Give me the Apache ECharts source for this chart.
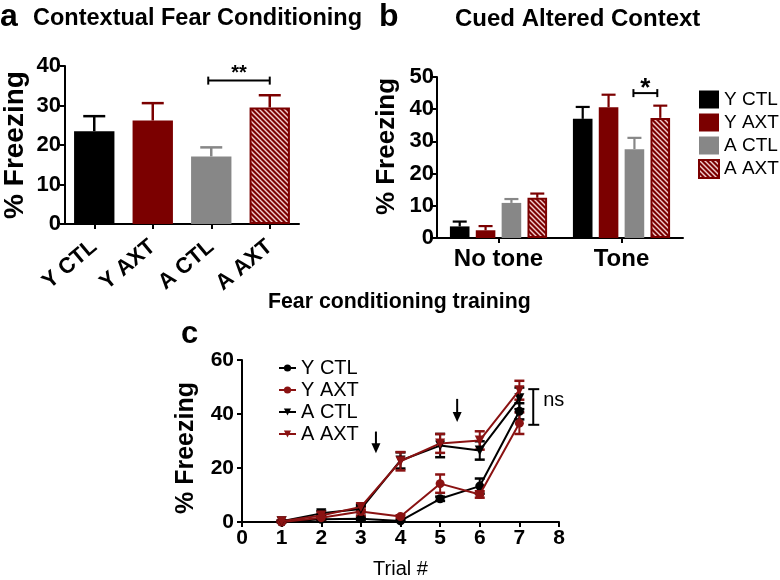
<!DOCTYPE html>
<html><head><meta charset="utf-8">
<script src="https://cdn.jsdelivr.net/npm/echarts@6/dist/echarts.min.js"></script>
<style>html,body{margin:0;padding:0;background:#fff}#c{width:780px;height:580px}</style>
</head><body><div id="c"></div>
<script>
// ---------- data ----------
const groupNames = ['Y CTL', 'Y AXT', 'A CTL', 'A AXT'];
// panel a: contextual fear conditioning
const meanA = [23.5, 26.2, 17.1, 29.5];
const semA = [3.8, 4.4, 2.3, 3.1];
const sigA = [2, 3, 36.3, '**'];              // from group, to group, level, label
// panel b: cued altered context
const catsB = ['No tone', 'Tone'];
const meanB_YCTL = [3.6, 37.0];
const meanB_YAXT = [2.4, 40.6];
const meanB_ACTL = [10.9, 27.6];
const meanB_AAXT = [12.5, 37.3];
const semB_YCTL = [1.5, 3.7];
const semB_YAXT = [1.3, 3.9];
const semB_ACTL = [1.2, 3.5];
const semB_AAXT = [1.3, 3.8];
const sigB = [1, 2, 3, 45, '*'];              // category, from group, to group, level, label
// panel c: fear conditioning training
const trials = [1, 2, 3, 4, 5, 6, 7];
const c_YCTL = [0.0, 1.0, 1.2, 0.4, 8.6, 13.3, 41.0];
const c_YAXT = [0.0, 1.6, 3.9, 2.0, 14.2, 10.2, 36.6];
const c_ACTL = [0.3, 3.2, 4.8, 22.8, 28.3, 26.5, 45.8];
const c_AAXT = [0.3, 2.4, 5.6, 22.5, 29.1, 30.2, 48.8];
const e_YCTL = [0.3, 0.5, 0.5, 0.3, 0.8, 2.8, 3.0];
const e_YAXT = [0.3, 0.8, 1.5, 0.5, 3.4, 1.2, 4.0];
const e_ACTL = [0.3, 1.0, 1.2, 3.0, 4.3, 3.4, 4.0];
const e_AAXT = [0.3, 0.8, 1.2, 3.4, 3.5, 3.4, 3.5];
const arrowsC = [[3.38, 33.5, 25.5], [5.43, 45.6, 37.0]]; // x, top, tip
const nsC = [7.35, 36.0, 49.2, 'ns'];

// ---------- styles ----------
const FONT = 'Liberation Sans, Arial, Helvetica, sans-serif';
const BLACK = '#000000', RED = '#7b0000', GRAY = '#878787', LRED = '#8a1212';
function makeHatch() {
  const s = 5, cv = document.createElement('canvas');
  cv.width = s; cv.height = s;
  const g = cv.getContext('2d');
  g.fillStyle = RED; g.fillRect(0, 0, s, s);
  g.strokeStyle = '#f2cccc'; g.lineWidth = 1.4;
  for (let k = -1; k <= 1; k++) {
    g.beginPath(); g.moveTo(k * s - 1, -1); g.lineTo(k * s + s + 1, s + 1); g.stroke();
  }
  return cv;
}
const HATCH = { image: makeHatch(), repeat: 'repeat' };
const fills = [BLACK, RED, GRAY, HATCH];
const strokes = [BLACK, RED, GRAY, RED];

const axisLine = { show: true, lineStyle: { color: '#000', width: 2 } };
const axisTick = { show: true, length: 5, lineStyle: { color: '#000', width: 2 } };
const boldLbl = (size, margin) => ({ color: '#000', fontFamily: FONT, fontWeight: 'bold', fontSize: size, margin: margin });

// bar offset within group for panel b
const B_CAT_GAP = 0.21, B_GAP = 0.32, NB = 4;
function offB(bw, g) {
  const avail = bw * (1 - B_CAT_GAP);
  const w = avail / (NB + (NB - 1) * B_GAP);
  return { off: -avail / 2 + w / 2 + g * w * (1 + B_GAP), w: w };
}

function ln(x1, y1, x2, y2, col, lw) {
  return { type: 'line', shape: { x1: x1, y1: y1, x2: x2, y2: y2 }, style: { stroke: col, lineWidth: lw } };
}

const chart = echarts.init(document.getElementById('c'), null, { renderer: 'canvas' });

const meansB = [meanB_YCTL, meanB_YAXT, meanB_ACTL, meanB_AAXT];
const semsB = [semB_YCTL, semB_YAXT, semB_ACTL, semB_AAXT];
const cMeans = [c_YCTL, c_YAXT, c_ACTL, c_AAXT];
const cErrs = [e_YCTL, e_YAXT, e_ACTL, e_AAXT];
const cCols = [BLACK, LRED, BLACK, LRED];
const cSyms = ['circle', 'circle', 'triangle', 'triangle'];

const errDataB = [];
meansB.forEach((arr, g) => arr.forEach((m, c) => errDataB.push([c, g, m, semsB[g][c]])));
const errDataC = [];
cMeans.forEach((arr, s) => arr.forEach((m, i) => errDataC.push([trials[i], m, cErrs[s][i], s])));

const series = [];
// panel a bars
series.push({
  type: 'bar', name: 'panelA', xAxisIndex: 0, yAxisIndex: 0,
  barCategoryGap: '31%',
  data: meanA.map((v, i) => ({ value: v, itemStyle: { color: fills[i], borderColor: i === 3 ? RED : 'transparent', borderWidth: i === 3 ? 2 : 0 } })),
  z: 3
});
series.push({
  type: 'custom', xAxisIndex: 0, yAxisIndex: 0, z: 2,
  encode: { x: 0, y: 1 },
  data: meanA.map((m, i) => [i, m, semA[i]]),
  renderItem(params, api) {
    const i = api.value(0), m = api.value(1), e = api.value(2);
    const p0 = api.coord([i, m]), p1 = api.coord([i, m + e]);
    const col = strokes[params.dataIndex];
    return { type: 'group', children: [
      ln(p0[0], p0[1], p1[0], p1[1], col, 2.5),
      ln(p1[0] - 11, p1[1], p1[0] + 11, p1[1], col, 2.5)
    ] };
  }
});
series.push({
  type: 'custom', xAxisIndex: 0, yAxisIndex: 0, z: 4,
  encode: { x: 0, y: 2 },
  data: [sigA],
  renderItem(params, api) {
    const a = api.coord([api.value(0), api.value(2)]);
    const b = api.coord([api.value(1), api.value(2)]);
    const x1 = a[0] - 3, x2 = b[0], y = a[1];
    return { type: 'group', children: [
      ln(x1, y, x2, y, '#000', 2),
      ln(x1, y - 4, x1, y + 4, '#000', 2),
      ln(x2, y - 4, x2, y + 4, '#000', 2),
      { type: 'text', style: { text: sigA[3], x: (x1 + x2) / 2, y: y - 7, align: 'center', verticalAlign: 'middle', font: 'bold 20px ' + FONT, fill: '#000' } }
    ] };
  }
});
// panel b bars
groupNames.forEach((nm, g) => {
  series.push({
    type: 'bar', name: nm, xAxisIndex: 1, yAxisIndex: 1,
    barGap: '32%', barCategoryGap: '21%', z: 3,
    itemStyle: { color: fills[g], borderColor: g === 3 ? RED : 'transparent', borderWidth: g === 3 ? 2 : 0 },
    data: meansB[g]
  });
});
series.push({
  type: 'custom', xAxisIndex: 1, yAxisIndex: 1, z: 2,
  encode: { x: 0, y: 2 },
  data: errDataB,
  renderItem(params, api) {
    const c = api.value(0), g = api.value(1), m = api.value(2), e = api.value(3);
    const bw = api.size([1, 0])[0];
    const o = offB(bw, g).off;
    const p0 = api.coord([c, m]), p1 = api.coord([c, m + e]);
    const x = p0[0] + o;
    const col = strokes[g];
    return { type: 'group', children: [
      ln(x, p0[1], x, p1[1], col, 2.2),
      ln(x - 7, p1[1], x + 7, p1[1], col, 2.2)
    ] };
  }
});
series.push({
  type: 'custom', xAxisIndex: 1, yAxisIndex: 1, z: 4,
  encode: { x: 0, y: 3 },
  data: [sigB],
  renderItem(params, api) {
    const c = api.value(0);
    const bw = api.size([1, 0])[0];
    const p = api.coord([c, api.value(3)]);
    const x1 = p[0] + offB(bw, api.value(1)).off - 1;
    const x2 = p[0] + offB(bw, api.value(2)).off - 3;
    const y = p[1];
    return { type: 'group', children: [
      ln(x1, y, x2, y, '#000', 2),
      ln(x1, y - 4, x1, y + 4, '#000', 2),
      ln(x2, y - 4, x2, y + 4, '#000', 2),
      { type: 'text', style: { text: sigB[4], x: (x1 + x2) / 2, y: y - 4, align: 'center', verticalAlign: 'middle', font: 'bold 26px ' + FONT, fill: '#000' } }
    ] };
  }
});
// panel c lines
const cNames = groupNames.map(n => 'c:' + n);
const cOrder = [0, 2, 1, 3];
cOrder.forEach(s => {
  series.push({
    type: 'line', name: cNames[s], xAxisIndex: 2, yAxisIndex: 2, z: 5 + s,
    symbol: cSyms[s], symbolSize: s < 2 ? 9 : 10, symbolRotate: s < 2 ? 0 : 180,
    lineStyle: { color: cCols[s], width: 2 },
    itemStyle: { color: cCols[s] },
    data: trials.map((t, i) => [t, cMeans[s][i]])
  });
});
series.push({
  type: 'custom', xAxisIndex: 2, yAxisIndex: 2, z: 3,
  encode: { x: 0, y: 1 },
  data: errDataC,
  renderItem(params, api) {
    const x = api.value(0), m = api.value(1), e = api.value(2), s = api.value(3);
    const pt = api.coord([x, m + e]), pb = api.coord([x, Math.max(0, m - e)]);
    const col = cCols[s];
    return { type: 'group', children: [
      ln(pt[0], pt[1], pb[0], pb[1], col, 2),
      ln(pt[0] - 5, pt[1], pt[0] + 5, pt[1], col, 2.5),
      ln(pb[0] - 5, pb[1], pb[0] + 5, pb[1], col, 2.5)
    ] };
  }
});
series.push({
  type: 'custom', xAxisIndex: 2, yAxisIndex: 2, z: 10,
  encode: { x: 0, y: 1 },
  data: arrowsC,
  renderItem(params, api) {
    const top = api.coord([api.value(0), api.value(1)]);
    const tip = api.coord([api.value(0), api.value(2)]);
    const children = [
      ln(top[0], top[1], tip[0], tip[1] - 8, '#000', 2),
      { type: 'polygon', shape: { points: [[tip[0] - 4.5, tip[1] - 10], [tip[0] + 4.5, tip[1] - 10], [tip[0], tip[1]]] }, style: { fill: '#000' } }
    ];
    if (params.dataIndex === 0) {
      const a = api.coord([nsC[0], nsC[1]]), b = api.coord([nsC[0], nsC[2]]);
      children.push(ln(a[0], a[1], b[0], b[1], '#000', 2));
      children.push(ln(a[0] - 5, a[1], a[0] + 6, a[1], '#000', 2));
      children.push(ln(b[0] - 5, b[1], b[0] + 6, b[1], '#000', 2));
      children.push({ type: 'text', style: { text: nsC[3], x: a[0] + 10, y: (a[1] + b[1]) / 2 - 6, align: 'left', verticalAlign: 'middle', font: '20px ' + FONT, fill: '#000' } });
    }
    return { type: 'group', children: children };
  }
});

const tStyle = (size) => ({ fontFamily: FONT, fontWeight: 'bold', fontSize: size, color: '#000' });
const option = {
  animation: false,
  backgroundColor: '#fff',
  textStyle: { fontFamily: FONT },
  title: [
    { text: 'a', left: 0, top: 1, padding: 0, textStyle: tStyle(32) },
    { text: 'Contextual Fear Conditioning', left: 33, top: 7, padding: 0, textStyle: tStyle(23.5) },
    { text: 'b', left: 379, top: 1, padding: 0, textStyle: tStyle(32) },
    { text: 'Cued Altered Context', left: 455, top: 7, padding: 0, textStyle: tStyle(24) },
    { text: 'Fear conditioning training', left: 268, top: 292, padding: 0, textStyle: tStyle(21.3) },
    { text: 'c', left: 181, top: 319, padding: 0, textStyle: tStyle(31) }
  ],
  legend: [
    {
      data: groupNames, orient: 'vertical', left: 698, top: 90, icon: 'rect', padding: 0,
      itemWidth: 20, itemHeight: 18, itemGap: 4, selectedMode: false,
      textStyle: { fontFamily: FONT, fontSize: 19, color: '#000' }
    },
    {
      data: cNames, orient: 'vertical', left: 278, top: 358, padding: 0,
      itemWidth: 17, itemHeight: 9, itemGap: 2, selectedMode: false,
      formatter: n => n.replace('c:', ''),
      textStyle: { fontFamily: FONT, fontSize: 20, color: '#000' }
    }
  ],
  grid: [
    { left: 61, top: 66, width: 238, height: 158, containLabel: false },
    { left: 437, top: 77, width: 246, height: 161, containLabel: false },
    { left: 242, top: 360, width: 317, height: 163, containLabel: false }
  ],
  xAxis: [
    { type: 'category', gridIndex: 0, data: groupNames, axisLine: axisLine, axisTick: Object.assign({ alignWithLabel: true }, axisTick),
      axisLabel: Object.assign({ rotate: 40, interval: 0 }, boldLbl(22, 20)), splitLine: { show: false } },
    { type: 'category', gridIndex: 1, data: catsB, axisLine: axisLine, axisTick: Object.assign({ alignWithLabel: true }, axisTick),
      axisLabel: Object.assign({ interval: 0 }, boldLbl(24, 9)), splitLine: { show: false } },
    { type: 'value', gridIndex: 2, min: 0, max: 8, interval: 1, axisLine: axisLine, axisTick: axisTick,
      axisLabel: boldLbl(21, 6), splitLine: { show: false },
      name: 'Trial #', nameLocation: 'middle', nameGap: 37,
      nameTextStyle: { fontFamily: FONT, fontSize: 20, color: '#000' } }
  ],
  yAxis: [
    { type: 'value', gridIndex: 0, min: 0, max: 40, interval: 10, axisLine: axisLine, axisTick: axisTick,
      axisLabel: boldLbl(22, 4), splitLine: { show: false },
      name: '% Freezing', nameLocation: 'middle', nameGap: 36, nameRotate: 90,
      nameTextStyle: { fontFamily: FONT, fontWeight: 'bold', fontSize: 28, color: '#000' } },
    { type: 'value', gridIndex: 1, min: 0, max: 50, interval: 10, axisLine: axisLine, axisTick: axisTick,
      axisLabel: boldLbl(22, 3), splitLine: { show: false },
      name: '% Freezing', nameLocation: 'middle', nameGap: 37, nameRotate: 90,
      nameTextStyle: { fontFamily: FONT, fontWeight: 'bold', fontSize: 26, color: '#000', padding: [0, 0, 0, 22] } },
    { type: 'value', gridIndex: 2, min: 0, max: 60, interval: 20, axisLine: axisLine, axisTick: axisTick,
      axisLabel: boldLbl(21, 8), splitLine: { show: false },
      name: '% Freezing', nameLocation: 'middle', nameGap: 43, nameRotate: 90,
      nameTextStyle: { fontFamily: FONT, fontWeight: 'bold', fontSize: 25, color: '#000', padding: [0, 14, 0, 0] } }
  ],
  series: series
};
chart.setOption(option);
</script>
</body></html>
